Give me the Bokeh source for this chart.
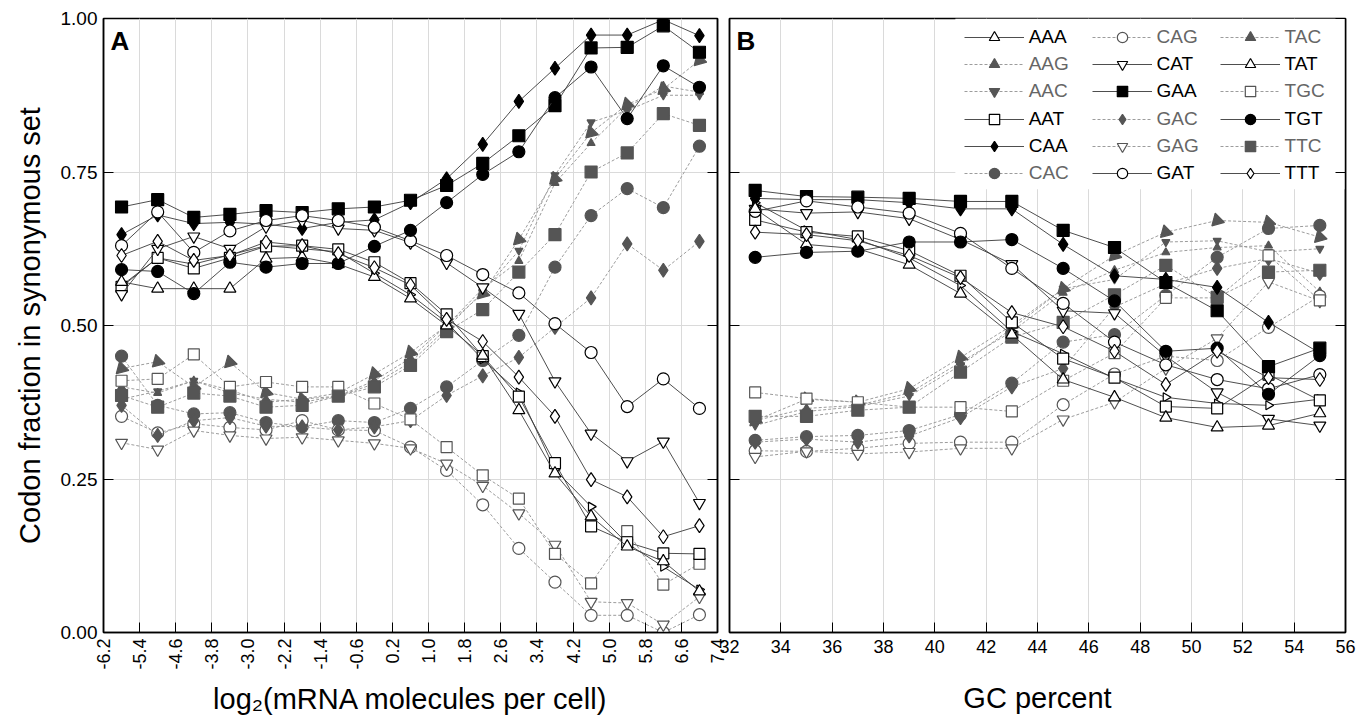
import numpy as np
from bokeh.plotting import figure
from bokeh.layouts import row
from bokeh.models import (FixedTicker, LinearAxis, Legend, LegendItem, Label,
                          BoxAnnotation, CustomJSTickFormatter, Range1d)
from bokeh.embed import file_html
from bokeh.resources import INLINE

# ---------------- data ----------------
A_X = [-5.8, -5.0, -4.2, -3.4, -2.6, -1.8, -1.0, -0.2, 0.6, 1.4, 2.2, 3.0, 3.8, 4.6, 5.4, 6.2, 7.0]
B_X = [33, 35, 37, 39, 41, 43, 45, 47, 49, 51, 53, 55]

A_XTICK_LABELS = ["-6.2", "-5.4", "-4.6", "-3.8", "-3.0", "-2.2", "-1.4", "-0.6", "0.2",
                  "1.0", "1.8", "2.6", "3.4", "4.2", "5.0", "5.8", "6.6", "7.4"]
B_XTICK_LABELS = ["32", "34", "36", "38", "40", "42", "44", "46", "48", "50", "52", "54", "56"]
Y_TICK_LABELS = ["0.00", "0.25", "0.50", "0.75", "1.00"]

CODONS = ["AAA", "AAG", "AAC", "AAT", "CAA", "CAC", "CAG", "CAT", "GAA",
          "GAC", "GAG", "GAT", "TAC", "TAT", "TGC", "TGT", "TTC", "TTT"]

# panel A: codon fraction vs log2(mRNA molecules per cell)
A_AAA = [0.565, 0.610, 0.600, 0.615, 0.630, 0.625, 0.620, 0.585, 0.550, 0.505, 0.445, 0.391, 0.265, 0.205, 0.145, 0.107, 0.070]
A_AAG = [0.400, 0.390, 0.410, 0.390, 0.380, 0.375, 0.385, 0.410, 0.447, 0.500, 0.560, 0.605, 0.732, 0.797, 0.855, 0.890, 0.880]
A_AAC = [0.380, 0.393, 0.410, 0.395, 0.375, 0.380, 0.385, 0.405, 0.440, 0.495, 0.555, 0.622, 0.745, 0.831, 0.850, 0.875, 0.875]
A_AAT = [0.563, 0.610, 0.593, 0.610, 0.629, 0.630, 0.624, 0.603, 0.569, 0.518, 0.450, 0.384, 0.276, 0.173, 0.147, 0.129, 0.128]
A_CAA = [0.648, 0.680, 0.666, 0.668, 0.665, 0.658, 0.668, 0.672, 0.700, 0.739, 0.795, 0.865, 0.919, 0.973, 0.973, 0.998, 0.972]
A_CAC = [0.450, 0.370, 0.356, 0.358, 0.342, 0.335, 0.345, 0.342, 0.365, 0.400, 0.443, 0.484, 0.595, 0.679, 0.723, 0.692, 0.792]
A_CAG = [0.352, 0.325, 0.340, 0.334, 0.330, 0.345, 0.330, 0.329, 0.302, 0.264, 0.208, 0.137, 0.082, 0.028, 0.028, 0.000, 0.029]
A_CAT = [0.551, 0.625, 0.645, 0.625, 0.661, 0.671, 0.658, 0.655, 0.635, 0.602, 0.562, 0.519, 0.409, 0.324, 0.279, 0.311, 0.211]
A_GAA = [0.693, 0.705, 0.676, 0.681, 0.687, 0.684, 0.690, 0.693, 0.704, 0.728, 0.764, 0.809, 0.858, 0.952, 0.953, 0.988, 0.945]
A_GAC = [0.370, 0.321, 0.345, 0.350, 0.336, 0.335, 0.330, 0.335, 0.345, 0.386, 0.418, 0.448, 0.497, 0.545, 0.633, 0.590, 0.637]
A_GAG = [0.309, 0.298, 0.329, 0.321, 0.316, 0.318, 0.313, 0.308, 0.300, 0.275, 0.239, 0.194, 0.143, 0.050, 0.048, 0.013, 0.058]
A_GAT = [0.630, 0.685, 0.619, 0.654, 0.671, 0.679, 0.671, 0.660, 0.638, 0.614, 0.583, 0.553, 0.503, 0.456, 0.368, 0.413, 0.365]
A_TAC = [0.430, 0.441, 0.400, 0.440, 0.391, 0.380, 0.390, 0.421, 0.456, 0.500, 0.552, 0.640, 0.739, 0.814, 0.860, 0.885, 0.932]
A_TAT = [0.571, 0.560, 0.560, 0.560, 0.609, 0.611, 0.600, 0.579, 0.544, 0.500, 0.451, 0.362, 0.259, 0.189, 0.140, 0.116, 0.067]
A_TGC = [0.410, 0.413, 0.453, 0.400, 0.408, 0.400, 0.400, 0.373, 0.347, 0.302, 0.256, 0.218, 0.128, 0.080, 0.165, 0.078, 0.112]
A_TGT = [0.591, 0.588, 0.552, 0.603, 0.595, 0.601, 0.601, 0.629, 0.655, 0.700, 0.746, 0.783, 0.871, 0.921, 0.837, 0.923, 0.888]
A_TTC = [0.386, 0.367, 0.390, 0.385, 0.367, 0.370, 0.385, 0.400, 0.435, 0.490, 0.526, 0.587, 0.648, 0.750, 0.781, 0.845, 0.826]
A_TTT = [0.614, 0.637, 0.606, 0.614, 0.636, 0.630, 0.617, 0.594, 0.566, 0.510, 0.474, 0.416, 0.352, 0.249, 0.221, 0.156, 0.174]

# panel B: codon fraction vs GC percent
B_AAA = [0.700, 0.655, 0.640, 0.610, 0.565, 0.490, 0.454, 0.414, 0.383, 0.373, 0.370, 0.380]
B_AAG = [0.345, 0.365, 0.370, 0.390, 0.440, 0.490, 0.553, 0.590, 0.619, 0.627, 0.630, 0.555]
B_AAC = [0.337, 0.360, 0.368, 0.385, 0.435, 0.495, 0.560, 0.575, 0.636, 0.638, 0.620, 0.625]
B_AAT = [0.672, 0.652, 0.645, 0.622, 0.581, 0.505, 0.446, 0.415, 0.368, 0.365, 0.420, 0.378]
B_CAA = [0.707, 0.705, 0.705, 0.700, 0.690, 0.690, 0.632, 0.581, 0.575, 0.562, 0.505, 0.455]
B_CAC = [0.313, 0.319, 0.321, 0.329, 0.355, 0.406, 0.473, 0.485, 0.549, 0.611, 0.658, 0.663]
B_CAG = [0.296, 0.295, 0.300, 0.308, 0.310, 0.310, 0.371, 0.421, 0.450, 0.443, 0.497, 0.548]
B_CAT = [0.690, 0.683, 0.685, 0.674, 0.640, 0.600, 0.524, 0.520, 0.450, 0.391, 0.348, 0.337]
B_GAA = [0.720, 0.710, 0.709, 0.707, 0.702, 0.702, 0.655, 0.627, 0.570, 0.524, 0.433, 0.463]
B_GAC = [0.310, 0.315, 0.310, 0.320, 0.350, 0.400, 0.430, 0.530, 0.568, 0.593, 0.609, 0.585]
B_GAG = [0.286, 0.295, 0.291, 0.294, 0.300, 0.300, 0.347, 0.375, 0.430, 0.479, 0.571, 0.540]
B_GAT = [0.686, 0.703, 0.693, 0.683, 0.650, 0.593, 0.536, 0.473, 0.436, 0.412, 0.397, 0.420]
B_TAC = [0.345, 0.380, 0.375, 0.397, 0.448, 0.500, 0.560, 0.614, 0.652, 0.671, 0.668, 0.644]
B_TAT = [0.690, 0.632, 0.625, 0.599, 0.552, 0.485, 0.412, 0.383, 0.350, 0.334, 0.337, 0.357]
B_TGC = [0.391, 0.381, 0.375, 0.367, 0.367, 0.360, 0.410, 0.455, 0.545, 0.545, 0.614, 0.541]
B_TGT = [0.611, 0.619, 0.621, 0.636, 0.636, 0.640, 0.593, 0.540, 0.458, 0.463, 0.388, 0.451]
B_TTC = [0.352, 0.352, 0.362, 0.367, 0.424, 0.481, 0.505, 0.550, 0.598, 0.546, 0.587, 0.590]
B_TTT = [0.652, 0.648, 0.638, 0.614, 0.578, 0.521, 0.498, 0.458, 0.404, 0.458, 0.415, 0.412]

A_DATA = {c: globals()["A_" + c] for c in CODONS}
B_DATA = {c: globals()["B_" + c] for c in CODONS}

# ---------------- styles ----------------
FONT = "Liberation Sans"
BLACK_LINE = "#3a3a3a"
GREY_LINE = "#9c9c9c"
GREY_MARK = "#555555"
GREY_TEXT = "#666666"
TICK_FONT_X = "18px"
# group, marker, angle, filled, size
STYLE = {
    "AAA": ("k", "triangle", -np.pi / 2, False, 9),
    "AAG": ("g", "triangle", 0.0, True, 8),
    "AAC": ("g", "inverted_triangle", 0.0, True, 8),
    "AAT": ("k", "square", 0.0, False, 11),
    "CAA": ("k", "diamond", 0.0, True, 14),
    "CAC": ("g", "circle", 0.0, True, 12),
    "CAG": ("g", "circle", 0.0, False, 12),
    "CAT": ("k", "inverted_triangle", 0.0, False, 12),
    "GAA": ("k", "square", 0.0, True, 12),
    "GAC": ("g", "diamond", 0.0, True, 14),
    "GAG": ("g", "inverted_triangle", 0.0, False, 12),
    "GAT": ("k", "circle", 0.0, False, 12),
    "TAC": ("g", "triangle", 3 * np.pi / 4, True, 13),
    "TAT": ("k", "triangle", 0.0, False, 12),
    "TGC": ("g", "square", 0.0, False, 11),
    "TGT": ("k", "circle", 0.0, True, 12),
    "TTC": ("g", "square", 0.0, True, 12),
    "TTT": ("k", "diamond", 0.0, False, 14),
}


def blank():
    return CustomJSTickFormatter(code="return ''")


def make_fig(xr, frame_w, bl, br, xticks, xlabels, xlabel, rotate, ylabels, border_fill):
    p = figure(frame_width=frame_w, frame_height=614, x_range=Range1d(*xr), y_range=Range1d(0, 1),
               output_backend="svg", toolbar_location=None,
               min_border_left=bl, min_border_right=br, min_border_top=18, min_border_bottom=86,
               outline_line_color="black", outline_line_width=1.5,
               background_fill_color="white", border_fill_color=border_fill)
    yt = [float(s) for s in Y_TICK_LABELS]
    xax = p.below[0]
    yax = p.left[0]
    xax.ticker = FixedTicker(ticks=xticks)
    xax.major_label_overrides = {t: s for t, s in zip(xticks, xlabels)}
    yax.ticker = FixedTicker(ticks=yt)
    if ylabels:
        yax.major_label_overrides = {t: s for t, s in zip(yt, Y_TICK_LABELS)}
        yax.major_label_standoff = 6
    else:
        yax.formatter = blank()
        yax.major_label_standoff = 0
    p.xgrid.ticker = FixedTicker(ticks=xticks)
    p.ygrid.ticker = FixedTicker(ticks=yt)
    for g in (p.xgrid, p.ygrid):
        g.grid_line_color = "#dadada"
        g.grid_line_width = 1
    for ax in (xax, yax):
        ax.major_tick_in = 10
        ax.major_tick_out = 0
        ax.minor_tick_line_color = None
        ax.axis_line_color = "black"
        ax.axis_line_width = 1.5
        ax.major_tick_line_color = "black"
        ax.major_label_text_font = FONT
        ax.major_label_text_color = "black"
        ax.axis_label_text_font = FONT
        ax.axis_label_text_font_style = "normal"
        ax.axis_label_text_font_size = "29px"
        ax.axis_label_text_color = "black"
    xax.major_label_text_font_size = TICK_FONT_X
    yax.major_label_text_font_size = "19px"
    xax.axis_label = xlabel
    if rotate:
        xax.major_label_orientation = np.pi / 2
        xax.major_label_standoff = 6
        xax.axis_label_standoff = 10
    else:
        xax.major_label_standoff = 7
        xax.axis_label_standoff = 26
    right = LinearAxis(ticker=FixedTicker(ticks=yt), formatter=blank(), major_tick_in=10, major_tick_out=0,
                       minor_tick_line_color=None, axis_line_color="black", axis_line_width=1.5,
                       major_label_standoff=0)
    p.add_layout(right, "right")
    return p


A_XTICKS = [float(s) for s in A_XTICK_LABELS]
# panel A canvas reaches a little past its frame so the last rotated tick label is not cut off
pA = make_fig((-6.2, 7.4), 614, 103, 11, A_XTICKS, A_XTICK_LABELS,
              "log\u2082(mRNA molecules per cell)", True, True, "white")
pA.left[0].axis_label = "Codon fraction in synonymous set"
pA.left[0].axis_label_standoff = 12

# panel B canvas is transparent at its left border and overlaps panel A's border slightly
pB = make_fig((32, 56), 616, 13, 11, [float(s) for s in B_XTICK_LABELS], B_XTICK_LABELS,
              "GC percent", False, False, None)
pB.margin = (0, 0, 0, -12)

# white area behind legend (panel B)
pB.add_layout(BoxAnnotation(left=40.8, right=56, bottom=0.722, top=1.0, fill_color="white",
                            fill_alpha=1.0, line_alpha=0, level="glyph"))


def draw(p, xs, data):
    rends = {}
    order = [c for c in CODONS if STYLE[c][0] == "g"] + [c for c in CODONS if STYLE[c][0] == "k"]
    for c in order:
        grp, mk, ang, filled, sz = STYLE[c]
        if grp == "k":
            ln = p.line(xs, data[c], line_color=BLACK_LINE, line_width=0.9)
            col = "black"
        else:
            ln = p.line(xs, data[c], line_color=GREY_LINE, line_width=1.0, line_dash="3 2")
            col = GREY_MARK
        sc = p.scatter(xs, data[c], marker=mk, angle=ang, size=sz, line_color=col, line_width=1.2,
                       fill_color=col if filled else "white")
        rends[c] = (ln, sc)
    return rends


draw(pA, A_X, A_DATA)
rB = draw(pB, B_X, B_DATA)

# legend: 3 columns x 6 rows, inside panel B top-right
LEG_LEFT = [234.7, 362.6, 490.6]
GH = 26
for i, c in enumerate(CODONS):
    col, rw = divmod(i, 6)
    center_from_top = 19 + rw * 27.2
    bottom_from_bottom = 614 - (center_from_top + GH / 2)
    grp = STYLE[c][0]
    leg = Legend(items=[LegendItem(label=c, renderers=list(rB[c]))],
                 location=(LEG_LEFT[col], bottom_from_bottom),
                 glyph_width=60, glyph_height=GH, label_height=GH, label_standoff=5,
                 padding=0, margin=0, spacing=0, border_line_alpha=0, background_fill_alpha=0,
                 label_text_font=FONT, label_text_font_size="19px",
                 label_text_color="black" if grp == "k" else GREY_TEXT)
    pB.add_layout(leg)

pA.add_layout(Label(x=-6.045, y=0.988, text="A", text_font=FONT, text_font_style="bold",
                    text_font_size="26px", text_baseline="top", text_color="black"))
pB.add_layout(Label(x=32.27, y=0.988, text="B", text_font=FONT, text_font_style="bold",
                    text_font_size="26px", text_baseline="top", text_color="black"))

layout = row(pA, pB)
open("out.html", "w").write(file_html(layout, INLINE))
